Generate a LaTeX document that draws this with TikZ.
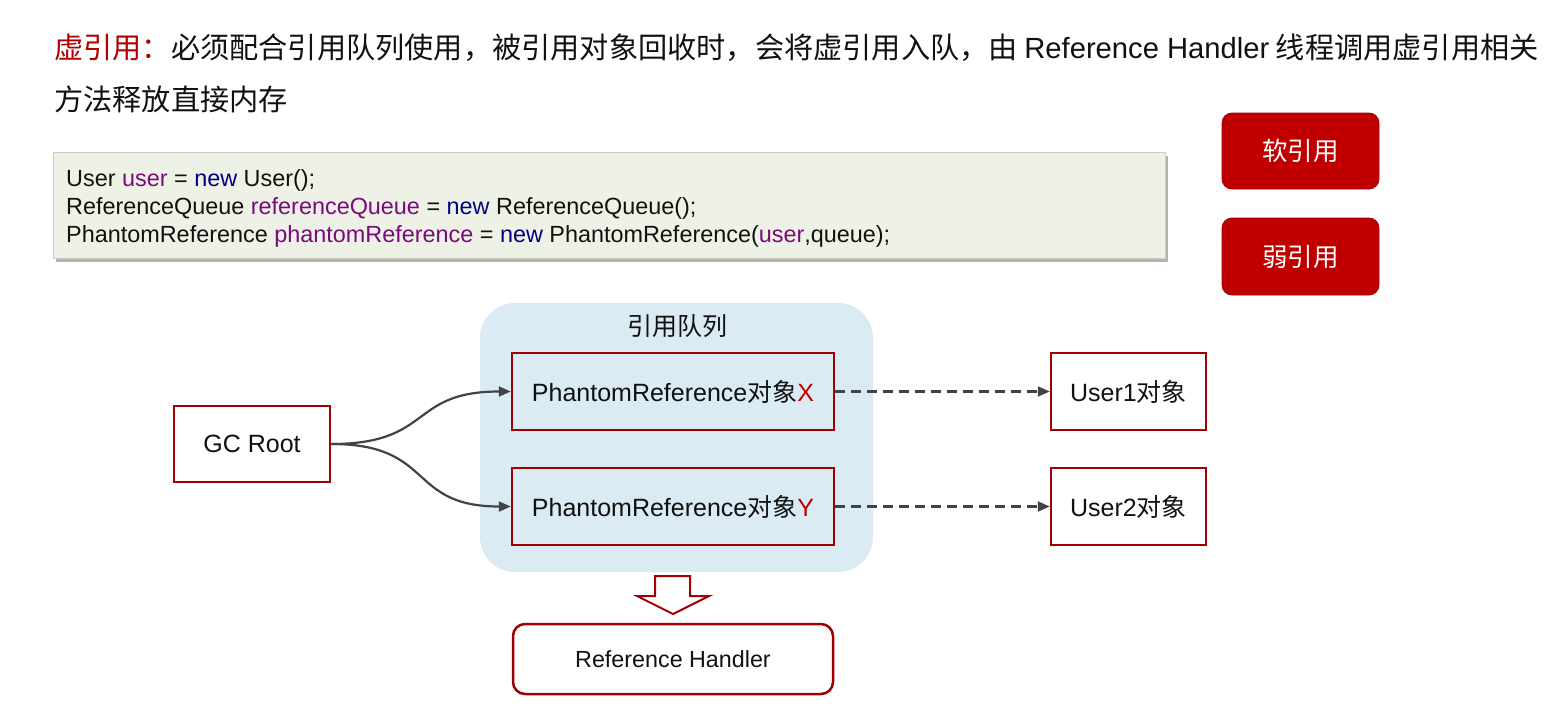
\documentclass[tikz,border=0pt]{standalone}
\usepackage{fontspec}
\setmainfont{Liberation Sans}
\newfontfamily\cjk{Noto Sans CJK SC}
\newfontfamily\lat{Liberation Sans}
\usetikzlibrary{arrows.meta,shadows}
\definecolor{tred}{HTML}{B00000}
\definecolor{dred}{HTML}{A00000}
\definecolor{bred}{HTML}{C00000}
\definecolor{qblue}{HTML}{DAEBF3}
\definecolor{codebg}{HTML}{EEF2E6}
\definecolor{conn}{HTML}{404448}
\definecolor{kwblue}{HTML}{000080}
\definecolor{varpur}{HTML}{7A0A7A}
\definecolor{txt}{HTML}{111111}
\tikzset{
  rbox/.style={draw=dred, line width=2.5pt, inner sep=0pt, text=txt, font=\fontsize{25}{30}\selectfont},
  btn/.style={fill=bred, draw=dred, line width=0.8pt, rounded corners=10pt, minimum width=157pt, text=white, font=\fontsize{25.5}{30}\selectfont\cjk},
  codeline/.style={anchor=base west, inner sep=0pt, text=txt, font=\fontsize{23.4}{27}\selectfont},
  curvearrow/.style={draw=conn, line width=2.2pt, -{Triangle[length=12pt,width=10pt]}},
  dasharrow/.style={draw=conn, line width=2.2pt, dash pattern=on 10pt off 6pt, -{Triangle[length=12pt,width=10pt]}},
}
\begin{document}
\begin{tikzpicture}[x=1pt,y=-1pt]
\useasboundingbox (0,0) rectangle (1563,709);
\fill[white] (0,0) rectangle (1563,709);

% title
\node[anchor=west, inner sep=0pt, text=txt] (title1) at (54,48)
  {\fontsize{29.2}{35}\selectfont\cjk\textcolor{tred}{虚引用：}必须配合引用队列使用，被引用对象回收时，会将虚引用入队，由 {\lat Reference Handler} 线程调用虚引用相关};
\node[anchor=west, inner sep=0pt, text=txt] (title2) at (54,99)
  {\fontsize{29.2}{35}\selectfont\cjk 方法释放直接内存};

% code box
\node[fill=codebg, draw=codebg!85!black, line width=0.4pt, minimum width=1112pt, minimum height=106pt,
      drop shadow={shadow xshift=3pt, shadow yshift=-4pt, fill=black, opacity=0.3}] (code) at (609,205) {};
\node[codeline] (c1) at (66,186) {User \textcolor{varpur}{user} = \textcolor{kwblue}{new} User();};
\node[codeline] (c2) at (66,214) {ReferenceQueue \textcolor{varpur}{referenceQueue} = \textcolor{kwblue}{new} ReferenceQueue();};
\node[codeline] (c3) at (66,242) {PhantomReference \textcolor{varpur}{phantomReference} = \textcolor{kwblue}{new} PhantomReference(\textcolor{varpur}{user},queue);};

% buttons
\node[btn, minimum height=76pt] (soft) at (1300.5,151) {软引用};
\node[btn, minimum height=77pt] (weak) at (1300.5,256.5) {弱引用};

% queue container
\node[fill=qblue, rounded corners=35pt, minimum width=393pt, minimum height=269pt, inner sep=0pt] (queue) at (676.5,437.5) {};
\node[text=txt, font=\fontsize{25}{30}\selectfont\cjk] (qlabel) at (677,326) {引用队列};

% boxes
\node[rbox, minimum width=322pt, minimum height=77pt] (px) at (673,391.5) {PhantomReference{\cjk 对象}\textcolor{bred}{X}};
\node[rbox, minimum width=322pt, minimum height=77pt] (py) at (673,506.5) {PhantomReference{\cjk 对象}\textcolor{bred}{Y}};
\node[rbox, fill=white, minimum width=156pt, minimum height=76pt] (gc) at (252,444) {GC Root};
\node[rbox, fill=white, minimum width=155pt, minimum height=77pt] (u1) at (1128.5,391.5) {User1{\cjk 对象}};
\node[rbox, fill=white, minimum width=155pt, minimum height=77pt] (u2) at (1128.5,506.5) {User2{\cjk 对象}};
\node[rbox, fill=white, rounded corners=12pt, minimum width=320pt, minimum height=70pt,
      font=\fontsize{23.3}{28}\selectfont] (rh) at (673,659) {Reference Handler};

% connectors
\draw[curvearrow] (gc.east) to[out=0, in=180, looseness=1.4] (px.west);
\draw[curvearrow] (gc.east) to[out=0, in=180, looseness=1.4] (py.west);
\draw[dasharrow] (px.east) -- (u1.west);
\draw[dasharrow] (py.east) -- (u2.west);

% hollow down arrow
\draw[draw=dred, line width=2pt, fill=white, line join=miter]
  (655,576) -- (690,576) -- (690,596) -- (709,596) -- (673,614) -- (637,596) -- (655,596) -- cycle;
\end{tikzpicture}
\end{document}
